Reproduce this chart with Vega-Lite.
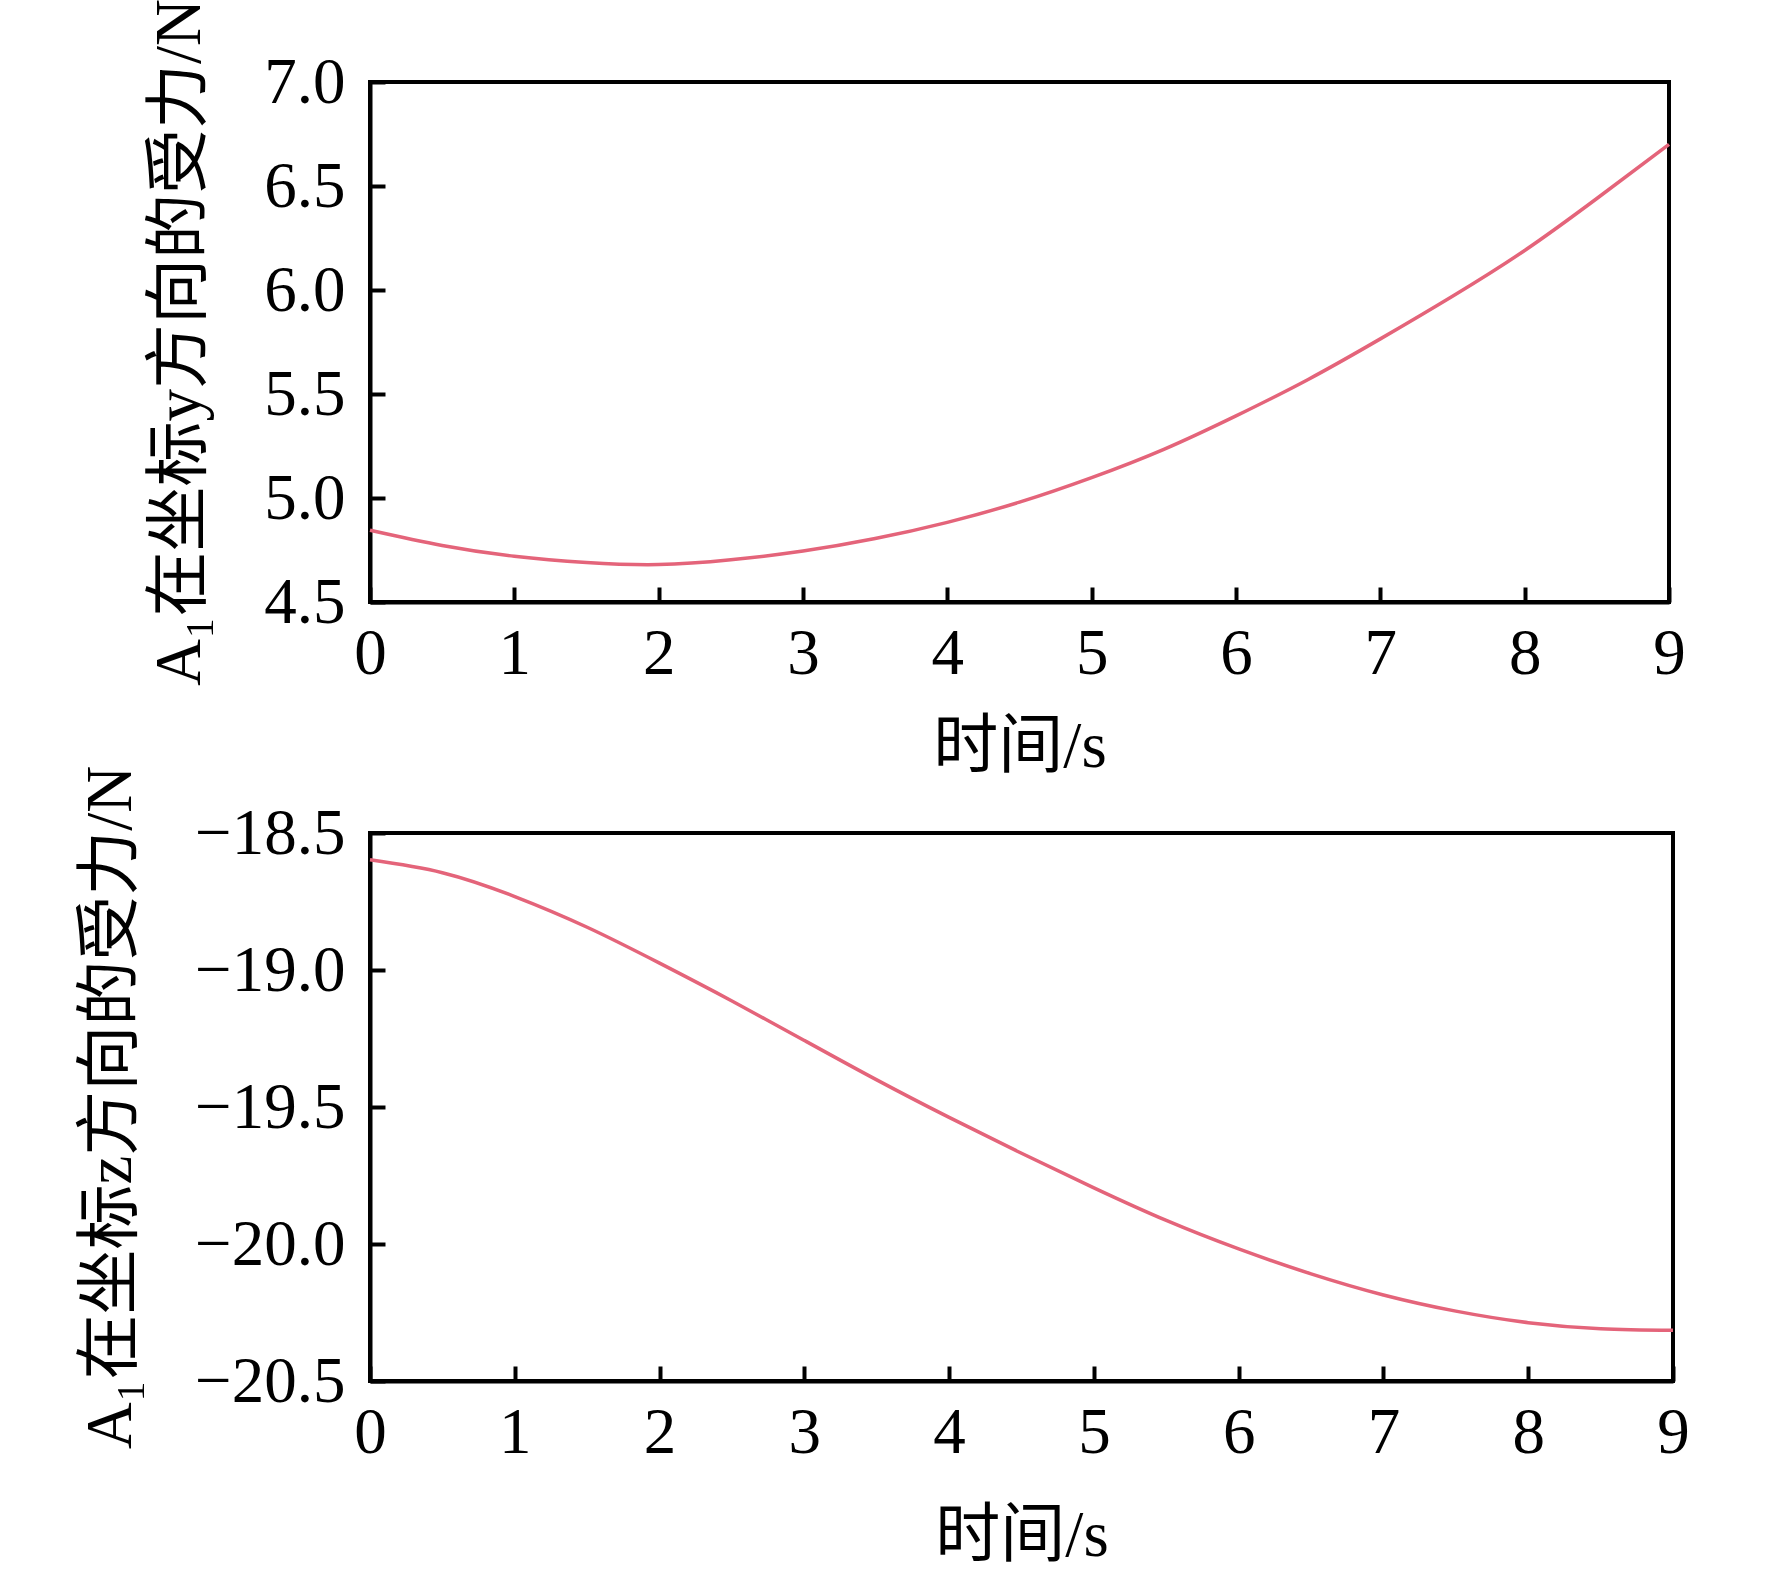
{
  "$schema": "https://vega.github.io/schema/vega-lite/v6.json",
  "autosize": "none",
  "padding": {"left": 370, "top": 82, "right": 1402, "bottom": 1491},
  "background": "white",
  "datasets": {
    "force_y": [
      {"t": 0, "f": 4.845},
      {"t": 0.5, "f": 4.772},
      {"t": 1, "f": 4.72},
      {"t": 1.5, "f": 4.69},
      {"t": 2, "f": 4.68},
      {"t": 2.5, "f": 4.703},
      {"t": 3, "f": 4.745},
      {"t": 3.5, "f": 4.805},
      {"t": 4, "f": 4.883},
      {"t": 4.5, "f": 4.98},
      {"t": 5, "f": 5.098},
      {"t": 5.5, "f": 5.234},
      {"t": 6, "f": 5.395},
      {"t": 6.5, "f": 5.57},
      {"t": 7, "f": 5.765},
      {"t": 7.5, "f": 5.97},
      {"t": 8, "f": 6.19},
      {"t": 8.5, "f": 6.44},
      {"t": 9, "f": 6.70}
    ],
    "force_z": [
      {"t": 0, "f": -18.598},
      {"t": 0.5, "f": -18.645},
      {"t": 1, "f": -18.732},
      {"t": 1.5, "f": -18.844},
      {"t": 2, "f": -18.975},
      {"t": 2.5, "f": -19.113},
      {"t": 3, "f": -19.257},
      {"t": 3.5, "f": -19.401},
      {"t": 4, "f": -19.538},
      {"t": 4.5, "f": -19.669},
      {"t": 5, "f": -19.795},
      {"t": 5.5, "f": -19.914},
      {"t": 6, "f": -20.018},
      {"t": 6.5, "f": -20.109},
      {"t": 7, "f": -20.186},
      {"t": 7.5, "f": -20.245},
      {"t": 8, "f": -20.287},
      {"t": 8.5, "f": -20.309},
      {"t": 9, "f": -20.315}
    ]
  },
  "config": {
    "font": "Liberation Serif, Noto Sans CJK SC",
    "view": {"stroke": "black", "strokeWidth": 4},
    "axis": {
      "grid": false,
      "domainColor": "black",
      "domainWidth": 4,
      "tickColor": "black",
      "tickWidth": 4,
      "tickSize": -15,
      "labelFont": "Liberation Serif",
      "labelFontSize": 65,
      "labelColor": "black",
      "labelFlush": false,
      "labelOverlap": false,
      "labelBound": false,
      "titleFont": "Liberation Serif, Noto Sans CJK SC",
      "titleFontSize": 65,
      "titleFontWeight": "normal",
      "titleColor": "black"
    }
  },
  "bounds": "flush",
  "spacing": 231,
  "vconcat": [
    {
      "width": 1299,
      "height": 520,
      "data": {"name": "force_y"},
      "mark": {"type": "line", "color": "#e4647a", "strokeWidth": 3.5, "interpolate": "natural"},
      "encoding": {
        "x": {
          "field": "t",
          "type": "quantitative",
          "scale": {"domain": [0, 9], "nice": false, "zero": false},
          "axis": {"values": [0, 1, 2, 3, 4, 5, 6, 7, 8, 9], "format": "d", "title": "时间/s", "labelPadding": 35, "titlePadding": 29}
        },
        "y": {
          "field": "f",
          "type": "quantitative",
          "scale": {"domain": [4.5, 7.0], "nice": false, "zero": false},
          "axis": {"values": [4.5, 5.0, 5.5, 6.0, 6.5, 7.0], "format": ".1f", "title": "A₁在坐标y方向的受力/N", "labelPadding": 40, "titlePadding": 50}
        }
      }
    },
    {
      "width": 1303,
      "height": 548,
      "data": {"name": "force_z"},
      "mark": {"type": "line", "color": "#e4647a", "strokeWidth": 3.5, "interpolate": "natural"},
      "encoding": {
        "x": {
          "field": "t",
          "type": "quantitative",
          "scale": {"domain": [0, 9], "nice": false, "zero": false},
          "axis": {"values": [0, 1, 2, 3, 4, 5, 6, 7, 8, 9], "format": "d", "title": "时间/s", "labelPadding": 35, "titlePadding": 39}
        },
        "y": {
          "field": "f",
          "type": "quantitative",
          "scale": {"domain": [-20.5, -18.5], "nice": false, "zero": false},
          "axis": {"values": [-20.5, -20.0, -19.5, -19.0, -18.5], "format": ".1f", "title": "A₁在坐标z方向的受力/N", "labelPadding": 40, "titlePadding": 50}
        }
      }
    }
  ]
}
